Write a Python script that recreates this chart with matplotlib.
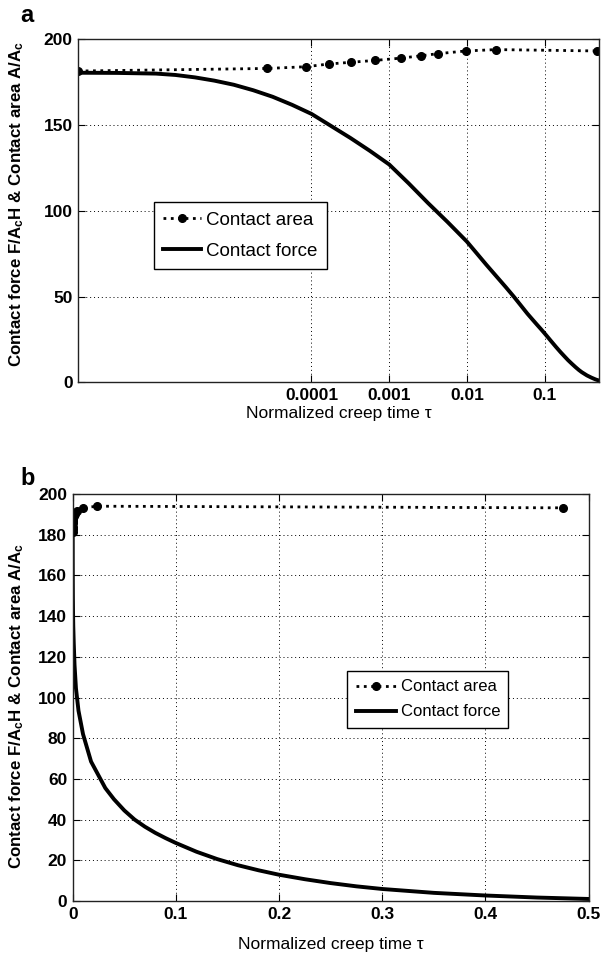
import matplotlib
matplotlib.use("Agg")
import matplotlib.pyplot as plt

plt.rcParams["font.family"] = ["Liberation Sans", "DejaVu Sans"]
plt.rcParams["mathtext.fontset"] = "custom"
plt.rcParams["mathtext.rm"] = "Liberation Sans"
plt.rcParams["mathtext.it"] = "Liberation Sans:italic"
plt.rcParams["mathtext.bf"] = "Liberation Sans:bold"

# Contact force (normalized) vs normalized creep time
tau_force = [1e-7, 3.16e-7, 1e-6, 1.78e-6, 3.16e-6, 5.62e-6, 1e-5, 1.78e-5,
             3.16e-5, 5.62e-5, 1e-4, 1.78e-4, 3.16e-4, 5.62e-4, 1e-3, 1.78e-3,
             3.16e-3, 5.62e-3, 1e-2, 1.78e-2, 3.16e-2, 0.04, 0.05, 0.06,
             0.07, 0.08, 0.09, 0.1, 0.12, 0.14, 0.16, 0.18, 0.2, 0.225,
             0.25, 0.275, 0.3, 0.35, 0.4, 0.45, 0.5]
force = [180.5, 180.4, 180.0, 179.2, 177.8, 175.9, 173.5, 170.3,
         166.5, 161.8, 156.5, 149.5, 142.5, 135.0, 127.0, 116.0,
         104.5, 93.5, 82.0, 68.5, 55.5, 50.0, 44.5, 40.0,
         36.5, 33.5, 30.9, 28.5, 24.2, 20.6, 17.6, 15.1, 12.9, 10.7,
         8.8, 7.2, 5.9, 4.0, 2.7, 1.7, 1.0]

# Contact area (normalized) at the solver output points
tau_area = [1e-7, 2.7e-5, 8.4e-5, 1.68e-4, 3.2e-4, 6.6e-4, 1.4e-3, 2.57e-3,
            4.2e-3, 9.7e-3, 2.37e-2, 0.475]
area = [181.5, 183.0, 184.0, 185.6, 186.6, 187.7, 189.0, 190.4,
        191.6, 193.2, 194.0, 193.2]

log_ticks = [1e-4, 1e-3, 1e-2, 1e-1]
log_ticklabels = ["0.0001", "0.001", "0.01", "0.1"]
lin_ticks = [0, 0.1, 0.2, 0.3, 0.4, 0.5]
lin_ticklabels = ["0", "0.1", "0.2", "0.3", "0.4", "0.5"]

ylabel = "Contact force F/A$_{\\mathbf{c}}$H & Contact area A/A$_{\\mathbf{c}}$"
xlabel = "Normalized creep time \u03c4"

W, H = 606, 963
fig = plt.figure(figsize=(W / 100, H / 100), dpi=100)


def box(l, r, t, b):
    return [l / W, 1 - b / H, (r - l) / W, (b - t) / H]


ax1 = fig.add_axes(box(78.3, 599, 39.3, 382.3))
ax2 = fig.add_axes(box(72.7, 588.7, 494, 901))

for ax in (ax1, ax2):
    ax.plot(tau_area, area, color="black", linestyle=":", linewidth=2,
            marker="o", markersize=5.5, label="Contact area")
    ax.plot(tau_force, force, color="black", linestyle="-", linewidth=2.8,
            label="Contact force")
    ax.grid(True, color="black", linestyle=(0, (1, 3)), linewidth=0.7)
    ax.tick_params(direction="in", top=True, right=True, length=5,
                   labelsize=12.5, pad=4)
    for s in ax.spines.values():
        s.set_color("#222222")
        s.set_linewidth(1.0)
    ax.set_ylim(0, 200)
    ax.set_ylabel(ylabel, fontsize=12.2, fontweight="bold")

# panel a: log time axis
ax1.set_xscale("log")
ax1.set_xlim(1e-7, 0.5)
ax1.set_xticks(log_ticks)
ax1.set_xticklabels(log_ticklabels, fontweight="bold")
ax1.xaxis.set_minor_locator(matplotlib.ticker.NullLocator())
ax1.set_yticks([0, 50, 100, 150, 200])
ax1.set_yticklabels(["0", "50", "100", "150", "200"], fontweight="bold")
ax1.set_xlabel(xlabel, fontsize=12.5, labelpad=2)
ax1.yaxis.set_label_coords(-0.1, 0.52)
ax1.legend(loc="lower left", bbox_to_anchor=(0.145, 0.33), fontsize=13.5,
           fancybox=False, edgecolor="black", framealpha=1, borderaxespad=0,
           handlelength=2.0, handletextpad=0.3, borderpad=0.5,
           labelspacing=0.75)

# panel b: linear time axis
ax2.set_xlim(0, 0.5)
ax2.set_xticks(lin_ticks)
ax2.set_xticklabels(lin_ticklabels, fontweight="bold")
ax2.set_yticks(range(0, 201, 20))
ax2.set_yticklabels([str(v) for v in range(0, 201, 20)], fontweight="bold")
ax2.set_xlabel(xlabel, fontsize=12.5, labelpad=11)
ax2.yaxis.set_label_coords(-0.0905, 0.48)
ax2.legend(loc="upper left", bbox_to_anchor=(0.532, 0.565), fontsize=12,
           fancybox=False, edgecolor="black", framealpha=1, borderaxespad=0,
           handlelength=2.4, handletextpad=0.3, borderpad=0.5,
           labelspacing=0.6)

fig.text(20 / W, 1 - 16 / H, "a", fontsize=17, fontweight="bold", ha="left", va="center")
fig.text(20 / W, 1 - 478 / H, "b", fontsize=17, fontweight="bold", ha="left", va="center")

fig.savefig("out.png", dpi=100)
